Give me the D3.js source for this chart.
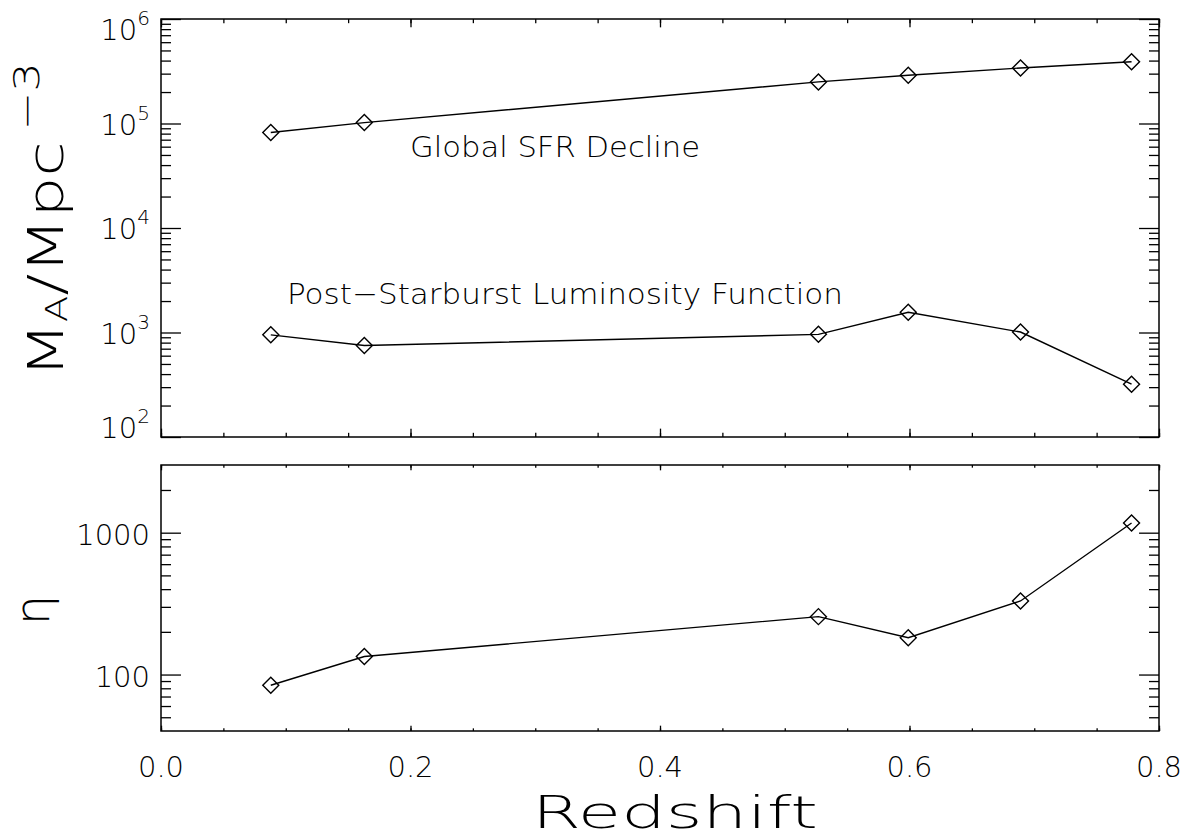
<!DOCTYPE html>
<html>
<head>
<meta charset="utf-8">
<script src="https://cdn.jsdelivr.net/npm/d3@7"></script>
<style>
  html, body { margin: 0; padding: 0; background: #fff; }
  svg { display: block; }
  text { font-family: "DejaVu Sans", "Liberation Sans", sans-serif; font-weight: 200; fill: #000; }
</style>
</head>
<body>
<svg id="chart" width="1190" height="840"></svg>
<script>
// Redshift of each sample bin
const redshift = [0.088, 0.163, 0.527, 0.599, 0.689, 0.778];
// Mass density per bin (M_A / Mpc^-3)
const sfrDecline = [8.2e4, 1.02e5, 2.5e5, 2.9e5, 3.4e5, 3.9e5];
const psbLuminosityFn = [950, 750, 960, 1560, 1010, 320];
// Ratio of the two
const eta = [84, 134, 256, 182, 330, 1170];

// Tick values
const xMajorTicks = [0.0, 0.2, 0.4, 0.6, 0.8];
const xMinorTicks = d3.range(0, 0.8001, 0.05);
const xTickLabels = ["0.0", "0.2", "0.4", "0.6", "0.8"];
const topMajorExp = [2, 3, 4, 5, 6];
const botMajorTicks = [100, 1000];
const botTickLabels = ["100", "1000"];

const svg = d3.select("#chart");

const L = 161, R = 1159;
const topPanel = { t: 19, b: 437 };
const botPanel = { t: 465, b: 731 };

const x = d3.scaleLinear().domain([0, 0.8]).range([L, R]);
const yTop = d3.scaleLog().domain([1e2, 1e6]).range([topPanel.b, topPanel.t]);
const yBot = d3.scaleLog().domain([40, 3000]).range([botPanel.b, botPanel.t]);

function minorLog(lo, hi) {
  const out = [];
  for (let e = Math.floor(Math.log10(lo)); e <= Math.ceil(Math.log10(hi)); e++) {
    for (let m = 2; m <= 9; m++) {
      const v = m * Math.pow(10, e);
      if (v > lo && v < hi) out.push(v);
    }
  }
  return out;
}

function drawAxes(panel, yScale, yMajors, yMinors) {
  const g = svg.append("g");
  const H = panel.b - panel.t;
  const W = R - L;
  const yMajLen = 0.02 * W, yMinLen = 0.01 * W;
  const xMajLen = 0.02 * H, xMinLen = 0.01 * H;

  const axisStyle = sel => {
    sel.select(".domain").remove();
    sel.selectAll("line").attr("stroke", "#000").attr("stroke-width", 1.3);
    sel.selectAll("text").remove();
  };

  // left / right y ticks (pointing inward)
  g.append("g").attr("transform", `translate(${L},0)`)
    .call(d3.axisLeft(yScale).tickValues(yMajors).tickSize(-yMajLen).tickFormat("")).call(axisStyle);
  g.append("g").attr("transform", `translate(${L},0)`)
    .call(d3.axisLeft(yScale).tickValues(yMinors).tickSize(-yMinLen).tickFormat("")).call(axisStyle);
  g.append("g").attr("transform", `translate(${R},0)`)
    .call(d3.axisRight(yScale).tickValues(yMajors).tickSize(-yMajLen).tickFormat("")).call(axisStyle);
  g.append("g").attr("transform", `translate(${R},0)`)
    .call(d3.axisRight(yScale).tickValues(yMinors).tickSize(-yMinLen).tickFormat("")).call(axisStyle);

  // bottom / top x ticks (pointing inward)
  g.append("g").attr("transform", `translate(0,${panel.b})`)
    .call(d3.axisBottom(x).tickValues(xMajorTicks).tickSize(-xMajLen).tickFormat("")).call(axisStyle);
  g.append("g").attr("transform", `translate(0,${panel.b})`)
    .call(d3.axisBottom(x).tickValues(xMinorTicks).tickSize(-xMinLen).tickFormat("")).call(axisStyle);
  g.append("g").attr("transform", `translate(0,${panel.t})`)
    .call(d3.axisTop(x).tickValues(xMajorTicks).tickSize(-xMajLen).tickFormat("")).call(axisStyle);
  g.append("g").attr("transform", `translate(0,${panel.t})`)
    .call(d3.axisTop(x).tickValues(xMinorTicks).tickSize(-xMinLen).tickFormat("")).call(axisStyle);

  // frame
  g.append("rect")
    .attr("x", L).attr("y", panel.t)
    .attr("width", W).attr("height", H)
    .attr("fill", "none").attr("stroke", "#000").attr("stroke-width", 1.5);
}

function drawSeries(yScale, values) {
  const pts = redshift.map((z, i) => [x(z), yScale(values[i])]);
  svg.append("path")
    .attr("d", d3.line()(pts))
    .attr("fill", "none").attr("stroke", "#000").attr("stroke-width", 1.4);
  const sym = d3.symbol().type(d3.symbolSquare).size(128);
  svg.append("g").selectAll("path").data(pts).join("path")
    .attr("d", sym)
    .attr("transform", d => `translate(${d[0]},${d[1]}) rotate(45)`)
    .attr("fill", "none").attr("stroke", "#000").attr("stroke-width", 1.4);
}

// ---- top panel ----
const topMajors = topMajorExp.map(e => Math.pow(10, e));
drawAxes(topPanel, yTop, topMajors, minorLog(1e2, 1e6));
drawSeries(yTop, sfrDecline);
drawSeries(yTop, psbLuminosityFn);

topMajorExp.forEach(e => {
  const ty = yTop(Math.pow(10, e));
  const base = Math.min(Math.max(ty + 11, topPanel.t + 21), topPanel.b + 1);
  const t = svg.append("text").attr("x", 150).attr("y", base)
    .attr("text-anchor", "end").style("font-size", "29px");
  t.append("tspan").text("10");
  t.append("tspan").attr("dy", -15).style("font-size", "20px").text(e);
});

svg.append("text").attr("x", 410).attr("y", 157)
  .attr("textLength", 290).attr("lengthAdjust", "spacingAndGlyphs")
  .style("font-size", "29px").text("Global SFR Decline");
svg.append("text").attr("x", 287).attr("y", 304)
  .attr("textLength", 556).attr("lengthAdjust", "spacingAndGlyphs")
  .style("font-size", "29px").text("Post\u2212Starburst Luminosity Function");

// y title: M_A / Mpc^-3
const yt = svg.append("text")
  .attr("transform", "translate(63,378) rotate(-90)")
  .attr("textLength", 316).attr("lengthAdjust", "spacingAndGlyphs")
  .style("font-size", "50px");
yt.append("tspan").text("M");
yt.append("tspan").attr("dy", 4).style("font-size", "30px").text("A");
yt.append("tspan").attr("dy", -4).text("/Mpc");
yt.append("tspan").attr("dy", -24).attr("dx", 8).style("font-size", "36px").text("\u22123");

// ---- bottom panel ----
drawAxes(botPanel, yBot, botMajorTicks, minorLog(40, 3000));
drawSeries(yBot, eta);

botMajorTicks.forEach((v, i) => {
  svg.append("text").attr("x", 150).attr("y", yBot(v) + 12)
    .attr("text-anchor", "end").style("font-size", "29px").text(botTickLabels[i]);
});

svg.append("text")
  .attr("transform", "translate(49,610) rotate(-90)")
  .attr("text-anchor", "middle")
  .style("font-size", "48px").text("\u03b7");

xMajorTicks.forEach((v, i) => {
  svg.append("text").attr("x", x(v)).attr("y", 777)
    .attr("text-anchor", "middle")
    .attr("textLength", 46).attr("lengthAdjust", "spacingAndGlyphs")
    .style("font-size", "29px").text(xTickLabels[i]);
});

svg.append("text").attr("x", 675).attr("y", 828)
  .attr("text-anchor", "middle")
  .attr("textLength", 286).attr("lengthAdjust", "spacingAndGlyphs")
  .style("font-size", "45px").text("Redshift");
</script>
</body>
</html>
